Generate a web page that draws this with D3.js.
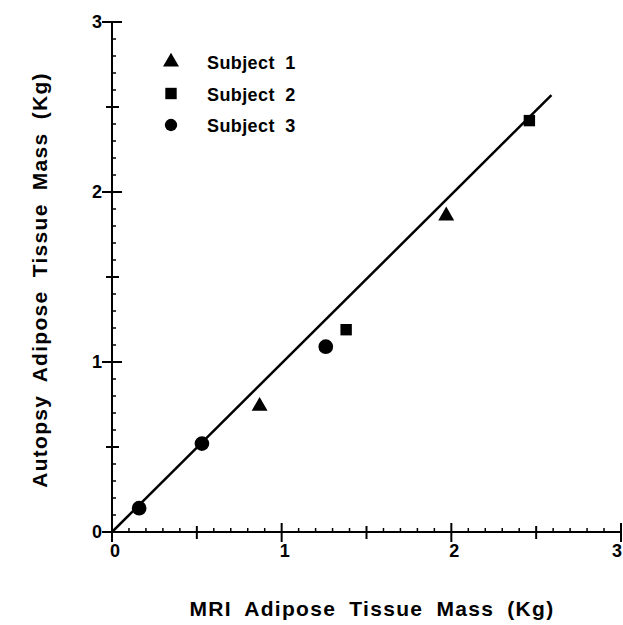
<!DOCTYPE html>
<html>
<head>
<meta charset="utf-8">
<script src="https://cdn.jsdelivr.net/npm/d3@7"></script>
<style>
  body { margin: 0; background: #fff; }
  text { font-family: "Liberation Sans", Arial, sans-serif; font-weight: bold; fill: #000; }
</style>
</head>
<body>
<div id="chart"></div>
<script>
// datos
const subject1 = [[0.87, 0.74], [1.97, 1.86]];
const subject2 = [[1.38, 1.19], [2.46, 2.42]];
const subject3 = [[0.16, 0.14], [0.53, 0.52], [1.26, 1.09]];
const fitLine = [[0, 0], [2.59, 2.57]];
const tickValues = [0, 1, 2, 3];
const legendLabels = ["Subject 1", "Subject 2", "Subject 3"];

const width = 623, height = 625;

const svg = d3.select("#chart").append("svg")
  .attr("width", width).attr("height", height);

const x = d3.scaleLinear().domain([0, 3]).range([112, 621]);
const y = d3.scaleLinear().domain([0, 3]).range([532, 22]);

// ejes
const axes = svg.append("g").attr("stroke", "#000").attr("stroke-width", 2);
axes.append("line").attr("x1", x(0)).attr("x2", x(3)).attr("y1", y(0)).attr("y2", y(0));
axes.append("line").attr("x1", x(0)).attr("x2", x(0)).attr("y1", y(0)).attr("y2", y(3));

const minor = d3.range(0, 3.001, 0.1).map(v => Math.round(v * 10) / 10);
minor.forEach(v => {
  const isInt = Math.abs(v - Math.round(v)) < 1e-6;
  const isHalf = !isInt && Math.abs(v * 2 - Math.round(v * 2)) < 1e-6;
  // eje x
  if (isInt) {
    axes.append("line").attr("x1", x(v)).attr("x2", x(v)).attr("y1", y(0) - 9).attr("y2", y(0) + 10);
  } else if (isHalf) {
    axes.append("line").attr("x1", x(v)).attr("x2", x(v)).attr("y1", y(0) - 6).attr("y2", y(0) + 7);
  } else {
    axes.append("line").attr("x1", x(v)).attr("x2", x(v)).attr("y1", y(0) - 4).attr("y2", y(0))
      .attr("stroke-width", 1.5);
  }
  // eje y
  if (isInt) {
    axes.append("line").attr("x1", x(0) - 10).attr("x2", x(0) + 10).attr("y1", y(v)).attr("y2", y(v));
  } else if (isHalf) {
    axes.append("line").attr("x1", x(0) - 6).attr("x2", x(0) + 7).attr("y1", y(v)).attr("y2", y(v));
  } else {
    axes.append("line").attr("x1", x(0)).attr("x2", x(0) + 4).attr("y1", y(v)).attr("y2", y(v))
      .attr("stroke-width", 1.5);
  }
});

// el "3" queda pegado al borde derecho
svg.selectAll("text.xt").data(tickValues).enter().append("text")
  .attr("class", "xt")
  .attr("x", d => d === 3 ? width - 1 : x(d) + 3).attr("y", y(0) + 25)
  .attr("text-anchor", d => d === 3 ? "end" : "middle").attr("font-size", 18)
  .text(d => d);

svg.selectAll("text.yt").data(tickValues).enter().append("text")
  .attr("class", "yt")
  .attr("x", x(0) - 10).attr("y", d => y(d) + 6)
  .attr("text-anchor", "end").attr("font-size", 18)
  .text(d => d);

// titulos
svg.append("text")
  .attr("x", 372).attr("y", 616)
  .attr("text-anchor", "middle").attr("font-size", 21)
  .attr("letter-spacing", 1.3).attr("word-spacing", 6)
  .text("MRI Adipose Tissue Mass (Kg)");

svg.append("text")
  .attr("transform", "translate(47,280) rotate(-90)")
  .attr("text-anchor", "middle").attr("font-size", 21)
  .attr("letter-spacing", 1.3).attr("word-spacing", 6)
  .text("Autopsy Adipose Tissue Mass (Kg)");

// linea de regresion
svg.append("path")
  .datum(fitLine)
  .attr("fill", "none").attr("stroke", "#000").attr("stroke-width", 2.5)
  .attr("d", d3.line().x(d => x(d[0])).y(d => y(d[1])));

// simbolos
const tri = d3.symbol().type(d3.symbolTriangle).size(110);
const sq = d3.symbol().type(d3.symbolSquare).size(130);
const circ = d3.symbol().type(d3.symbolCircle).size(170);

svg.selectAll("path.s1").data(subject1).enter().append("path")
  .attr("class", "s1").attr("d", tri)
  .attr("transform", d => `translate(${x(d[0])},${y(d[1])})`);
svg.selectAll("path.s2").data(subject2).enter().append("path")
  .attr("class", "s2").attr("d", sq)
  .attr("transform", d => `translate(${x(d[0])},${y(d[1])})`);
svg.selectAll("path.s3").data(subject3).enter().append("path")
  .attr("class", "s3").attr("d", circ)
  .attr("transform", d => `translate(${x(d[0])},${y(d[1])})`);

// leyenda
const legendSymbols = [tri, sq, d3.symbol().type(d3.symbolCircle).size(120)];
const legend = svg.append("g");
legendLabels.forEach((lab, i) => {
  const ly = 62 + i * 31.5;
  legend.append("path").attr("d", legendSymbols[i])
    .attr("transform", `translate(171,${ly})`);
  legend.append("text")
    .attr("x", 207).attr("y", ly + 7)
    .attr("font-size", 18).attr("letter-spacing", 0.4).attr("word-spacing", 5)
    .text(lab);
});
</script>
</body>
</html>
